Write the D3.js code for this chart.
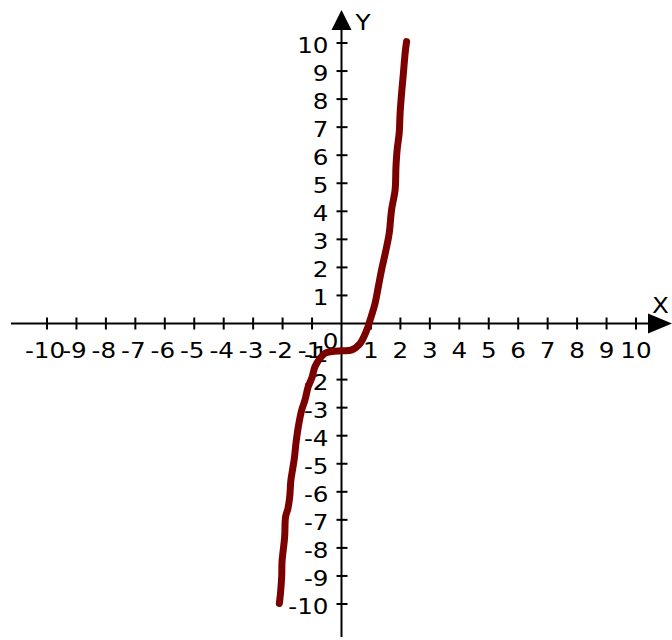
<!DOCTYPE html>
<html><head><meta charset="utf-8">
<script src="https://cdn.jsdelivr.net/npm/d3@7"></script>
<style>html,body{margin:0;padding:0;background:#fff;}svg{display:block;}</style>
</head><body>
<script>
const xTicks = [-10,-9,-8,-7,-6,-5,-4,-3,-2,-1,1,2,3,4,5,6,7,8,9,10];
const yTicks = [-10,-9,-8,-7,-6,-5,-4,-3,-2,-1,1,2,3,4,5,6,7,8,9,10];
const curveX = [-2.11,-2.07,-2.03,-2.02,-1.93,-1.90,-1.82,-1.76,-1.72,-1.66,-1.60,-1.55,-1.47,-1.35,-1.24,-1.13,-1.01,-0.90,-0.73,-0.56,-0.33,0.0,0.35,0.63,0.86,0.97,1.14,1.25,1.36,1.51,1.62,1.70,1.82,1.85,1.89,1.96,1.99,2.04,2.10,2.16,2.21];
const curveY = [-9.98,-9.6,-9.0,-8.5,-7.6,-6.9,-6.6,-6.2,-5.6,-5.2,-4.8,-4.3,-3.7,-3.08,-2.73,-2.25,-1.95,-1.54,-1.24,-1.06,-1.0,-0.97,-0.94,-0.71,-0.23,0.12,0.72,1.31,1.91,2.62,3.22,4.05,4.76,5.6,6.2,6.8,7.5,8.2,8.9,9.63,10.05];

const W = 672, H = 640;
const svg = d3.select("body").append("svg").attr("width", W).attr("height", H);
const x = d3.scaleLinear().domain([-10, 10]).range([47, 636]);
const y = d3.scaleLinear().domain([-10, 10]).range([604, 43]);
const x0 = x(0), y0 = y(0);
const font = "DejaVu Sans, sans-serif";
const SX = 1.12;
const lbl = d => d < 0 ? "-" + Math.abs(d) : String(d);

// axes lines
svg.append("line").attr("x1", 11).attr("x2", 650).attr("y1", y0).attr("y2", y0)
  .attr("stroke", "#000").attr("stroke-width", 2);
svg.append("line").attr("x1", x0).attr("x2", x0).attr("y1", 27).attr("y2", 637)
  .attr("stroke", "#000").attr("stroke-width", 2);
// arrows
svg.append("path").attr("d", `M${x0},10 L${x0+10},30 L${x0-10},30 Z`).attr("fill", "#000");
svg.append("path").attr("d", `M672,${y0} L648,${y0-10} L648,${y0+10} Z`).attr("fill", "#000");

// x ticks
const xg = svg.append("g");
xg.selectAll("line").data(xTicks).join("line")
  .attr("x1", d => x(d)).attr("x2", d => x(d)).attr("y1", y0 - 6).attr("y2", y0 + 6)
  .attr("stroke", "#000").attr("stroke-width", 2);
xg.selectAll("text").data(xTicks).join("text")
  .attr("transform", d => `translate(${x(d) - (d < 0 ? 2 : 0)},${y0 + 34}) scale(${SX},1)`)
  .attr("text-anchor", "middle").attr("font-family", font).attr("font-size", 22)
  .text(lbl);

// y ticks
const yg = svg.append("g");
yg.selectAll("line").data(yTicks).join("line")
  .attr("x1", x0 - 5).attr("x2", x0 + 6).attr("y1", d => y(d)).attr("y2", d => y(d))
  .attr("stroke", "#000").attr("stroke-width", 2);
yg.selectAll("text").data(yTicks).join("text")
  .attr("transform", d => `translate(${x0 - 13},${y(d) + 10}) scale(${SX},1)`)
  .attr("text-anchor", "end").attr("font-family", font).attr("font-size", 22)
  .text(lbl);

svg.append("text").attr("transform", `translate(${x0 - 3},${y0 + 25}) scale(${SX},1)`).attr("text-anchor", "end")
  .attr("font-family", font).attr("font-size", 22).text("0");
svg.append("text").attr("transform", `translate(${x0 + 14},30) scale(${SX},1)`).attr("font-family", font).attr("font-size", 22).text("Y");
svg.append("text").attr("transform", `translate(652,313) scale(${SX},1)`).attr("font-family", font).attr("font-size", 22).text("X");

// curve
const pts = curveX.map((v, i) => [v, curveY[i]]);
svg.append("path").datum(pts)
  .attr("d", d3.line().x(d => x(d[0])).y(d => y(d[1])).curve(d3.curveCatmullRom))
  .attr("fill", "none").attr("stroke", "#7b0000").attr("stroke-width", 7)
  .attr("stroke-linecap", "round").attr("stroke-linejoin", "round");
</script>
</body></html>
